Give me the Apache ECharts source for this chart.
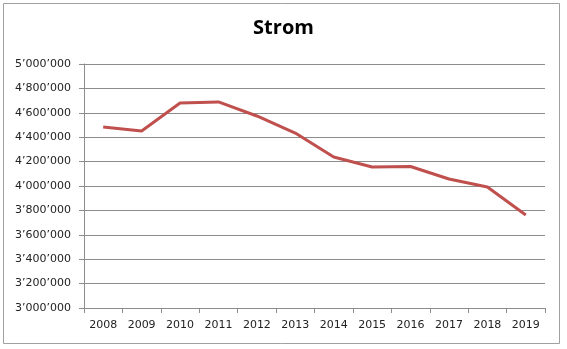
<!DOCTYPE html>
<html>
<head>
<meta charset="utf-8">
<script src="https://cdn.jsdelivr.net/npm/echarts@6/dist/echarts.min.js"></script>
<style>
  html, body { margin: 0; padding: 0; background: #fff; }
  #chart { width: 567px; height: 349px; }
</style>
</head>
<body>
<div id="chart"></div>
<script>
// Annual electricity consumption
const years = ['2008', '2009', '2010', '2011', '2012', '2013', '2014', '2015', '2016', '2017', '2018', '2019'];
const strom = [4484000, 4451000, 4680000, 4689000, 4574000, 4434000, 4238000, 4156000, 4160000, 4057000, 3992000, 3762000];
const yMin = 3000000;
const yMax = 5000000;
const yStep = 200000;

// Swiss-style thousands separator: 4’800’000
function swissFormat(v) {
  return String(Math.round(v)).replace(/\B(?=(\d{3})+(?!\d))/g, '\u2019');
}

const chart = echarts.init(document.getElementById('chart'), null, { renderer: 'canvas' });
chart.setOption({
  animation: false,
  backgroundColor: '#ffffff',
  title: {
    text: 'Strom',
    left: 'center',
    top: 13,
    textStyle: { fontFamily: 'Open Sans', fontWeight: 'bold', fontSize: 20, color: '#000' }
  },
  graphic: [{
    type: 'rect',
    shape: { x: 3.5, y: 3.5, width: 556, height: 340 },
    style: { fill: 'none', stroke: '#a0a0a0', lineWidth: 1 },
    silent: true
  }],
  grid: { left: 84, right: 22, top: 64, bottom: 41 },
  xAxis: {
    type: 'category',
    data: years,
    boundaryGap: true,
    axisLine: { lineStyle: { color: '#8c8c8c', width: 1 } },
    axisTick: { show: true, length: 5, alignWithLabel: false, lineStyle: { color: '#8c8c8c' } },
    axisLabel: { margin: 12, fontFamily: 'DejaVu Sans', fontSize: 11, color: '#222' },
    splitLine: { show: false }
  },
  yAxis: {
    type: 'value',
    min: yMin,
    max: yMax,
    interval: yStep,
    axisLine: { show: true, lineStyle: { color: '#8c8c8c', width: 1 } },
    axisTick: { show: true, length: 5, lineStyle: { color: '#8c8c8c' } },
    axisLabel: { margin: 13, fontFamily: 'DejaVu Sans', fontSize: 11, color: '#222', formatter: swissFormat },
    splitLine: { show: true, lineStyle: { color: '#8c8c8c', width: 1 } }
  },
  series: [{
    type: 'line',
    data: strom,
    symbol: 'none',
    lineStyle: { color: '#c0504d', width: 3 },
    itemStyle: { color: '#c0504d' }
  }]
});
</script>
</body>
</html>
